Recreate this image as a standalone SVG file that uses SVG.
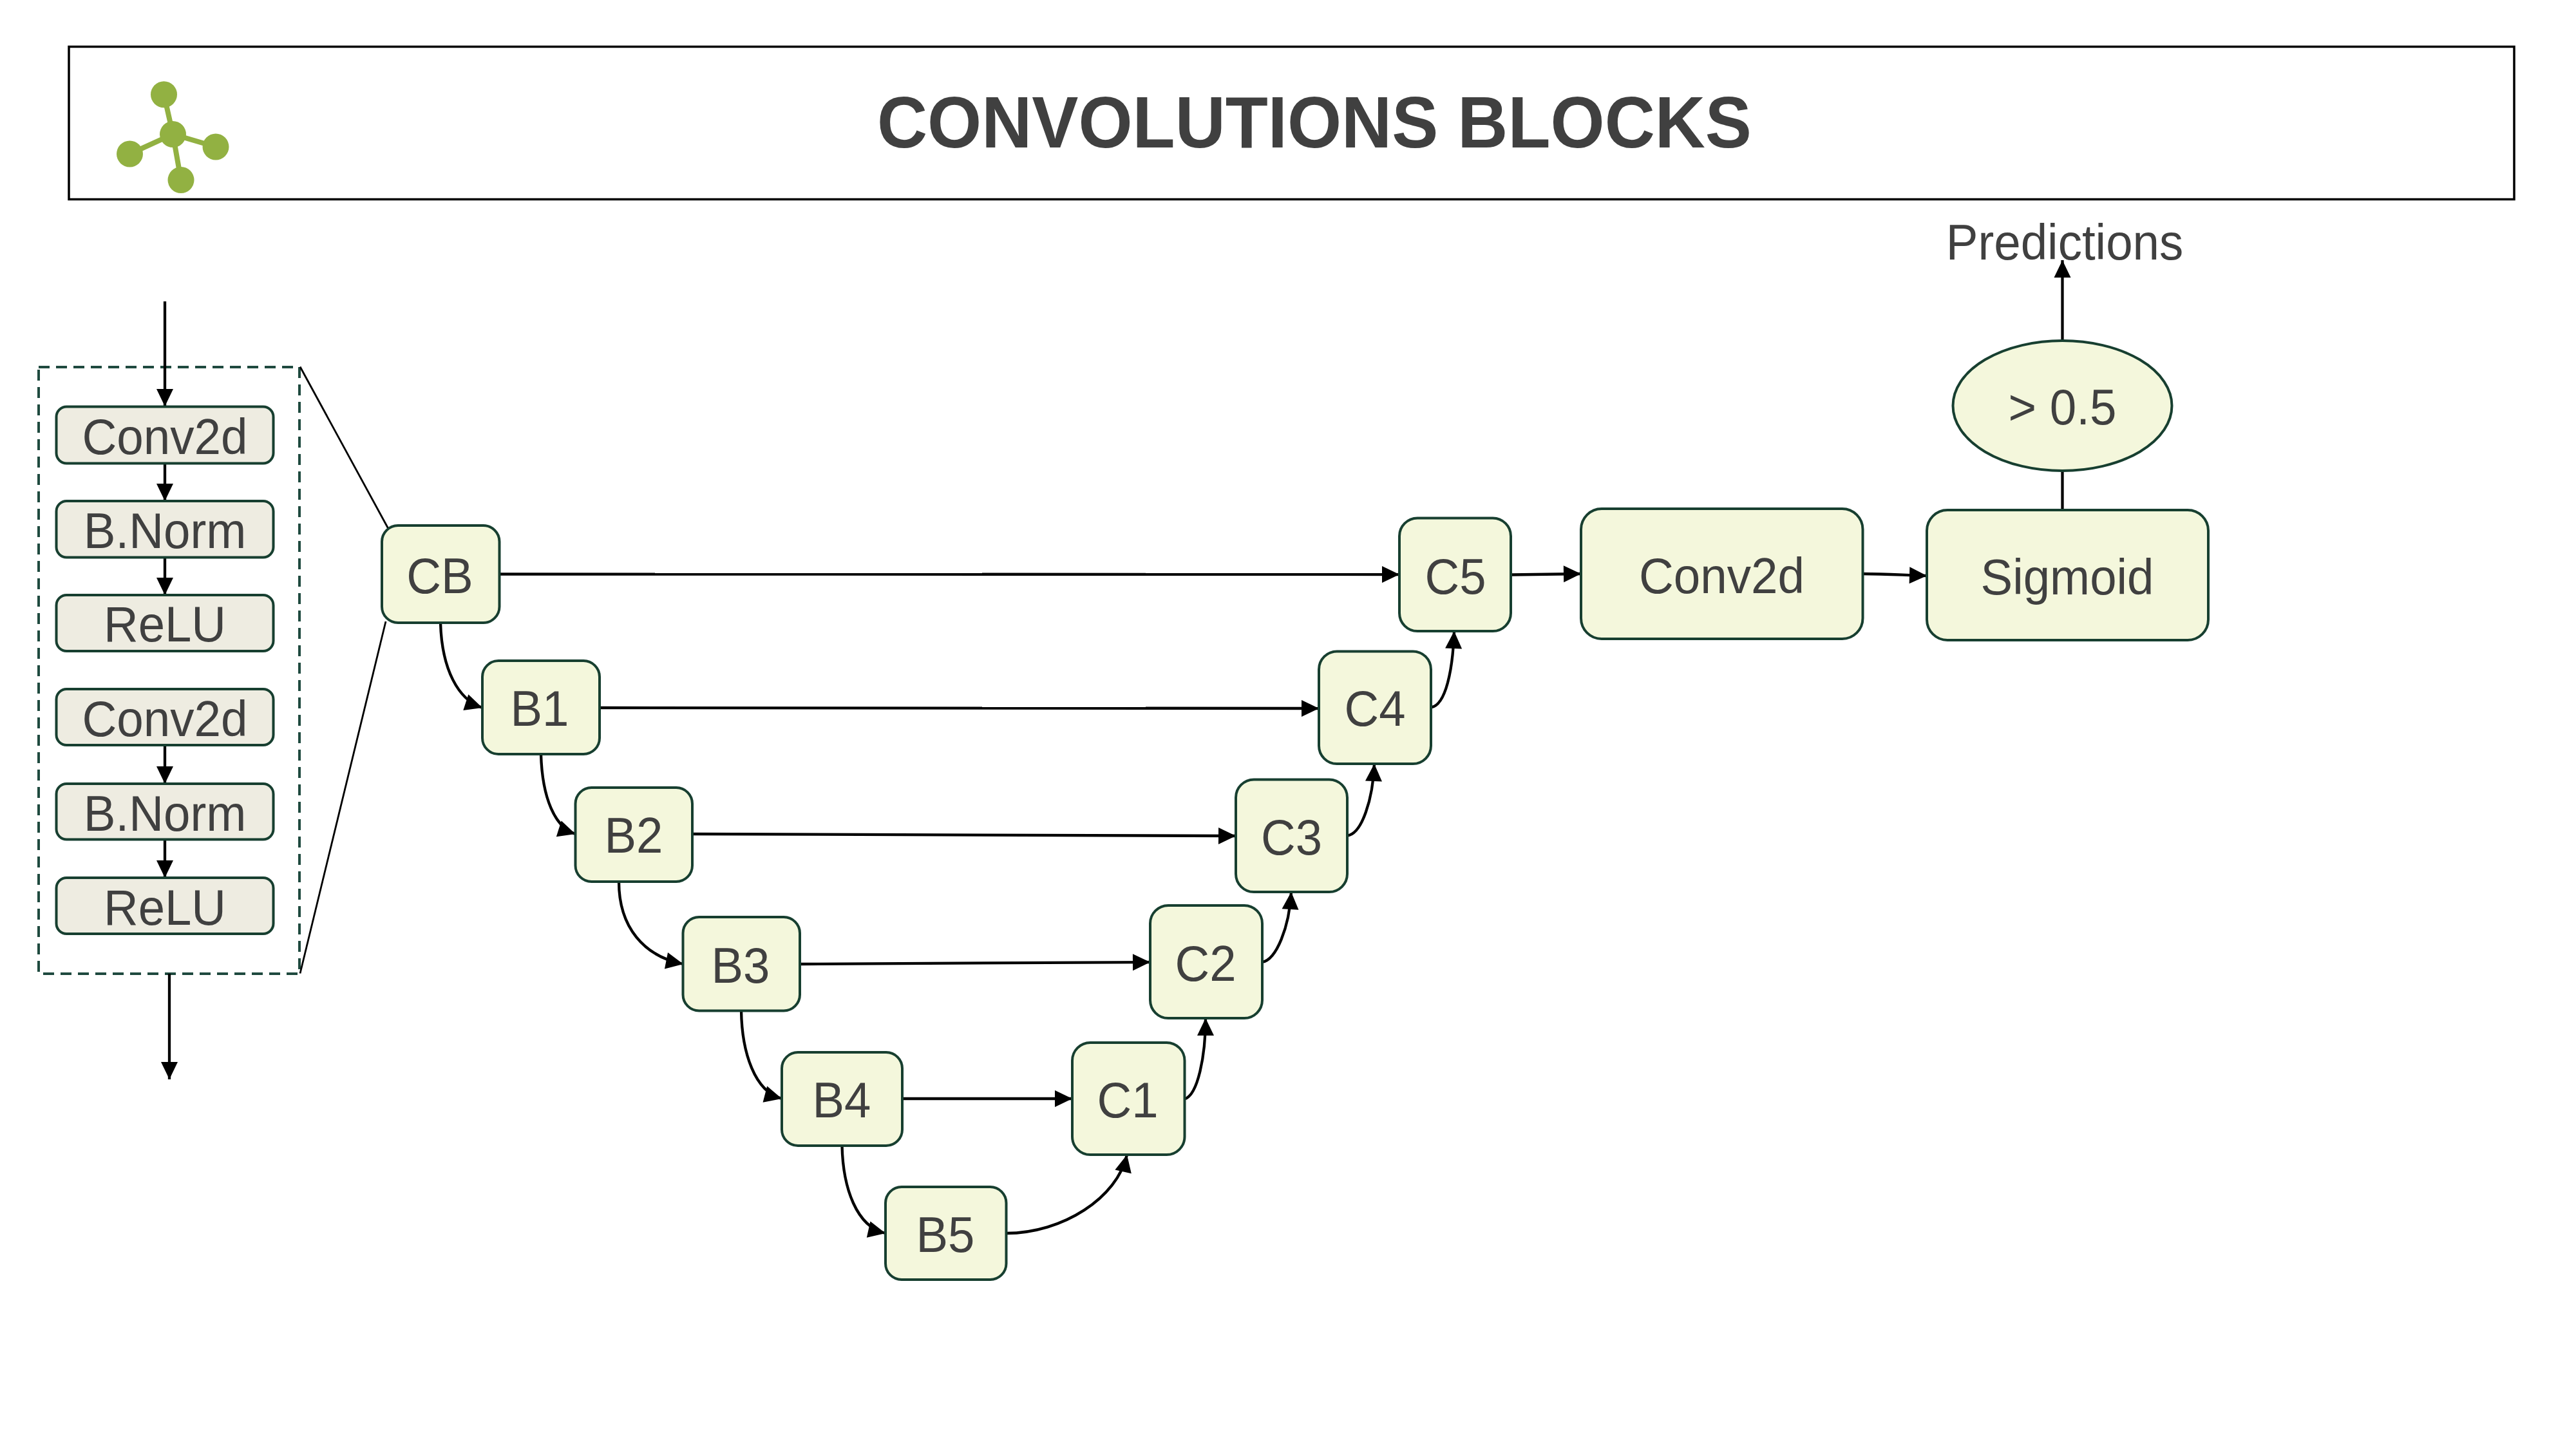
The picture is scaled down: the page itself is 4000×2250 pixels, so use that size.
<svg xmlns="http://www.w3.org/2000/svg" width="4000" height="2250" viewBox="0 0 4000 2250">
<style>
text{font-family:"Liberation Sans",Arial,sans-serif;fill:#404040;font-size:77px;text-anchor:middle}
.t{font-size:113px;font-weight:bold}
.n{fill:#F4F7DC;stroke:#173F30;stroke-width:4}
.s{fill:#EEECE1;stroke:#173F30;stroke-width:4}
.c{fill:none;stroke:#000;stroke-width:4.300;marker-end:url(#a)}
.l{fill:none;stroke:#000;stroke-width:4.300}
.z{fill:none;stroke:#000;stroke-width:2.800}
.g{fill:#92B142}
.gl{fill:none;stroke:#92B142;stroke-width:8}
</style>
<defs>
<marker id="a" markerUnits="userSpaceOnUse" markerWidth="28" markerHeight="28" refX="27" refY="13" orient="auto" overflow="visible"><path d="M0 0L27 13L0 26Z" fill="#000"/></marker>
</defs>
<g id="title">
<rect x="107" y="72.500" width="3797" height="237" fill="#fff" stroke="#000" stroke-width="3.500"/>
<text class="t" x="2041" y="229" textLength="1358" lengthAdjust="spacingAndGlyphs">CONVOLUTIONS BLOCKS</text>
</g>
<g id="logo">
<path class="gl" d="M254.500 146.700L268.500 208.500L281 279.500M201.500 239L268.500 208.500L335 228"/>
<circle class="g" cx="254.500" cy="146.700" r="20.500"/>
<circle class="g" cx="268.500" cy="208.500" r="20.500"/>
<circle class="g" cx="335" cy="228" r="20.500"/>
<circle class="g" cx="201.500" cy="239" r="20.500"/>
<circle class="g" cx="281" cy="279.500" r="20.500"/>
</g>
<g id="block-frame">
<rect x="60" y="570" width="405" height="942" fill="none" stroke="#1F4A3F" stroke-width="4" stroke-dasharray="17 10"/>
</g>
<g id="connectors">
<path class="z" d="M466 569.500L603 821"/>
<path class="z" d="M599 965L466 1511.500"/>
<path class="c" d="M256 468V631"/>
<path class="c" d="M256 719V778"/>
<path class="c" d="M256 865V924"/>
<path class="c" d="M256 1157V1217"/>
<path class="c" d="M256 1303V1363"/>
<path class="c" d="M263 1512V1676"/>
<path class="c" d="M775 891.500L2173 892"/>
<path class="c" d="M931 1099L2048 1100"/>
<path class="c" d="M1075 1295L1919 1298"/>
<path class="c" d="M1242 1497L1786 1494"/>
<path class="c" d="M1401 1706H1665"/>
<path class="c" d="M2346 892.500L2455 891"/>
<path class="c" d="M2892 891C2930 891 2955 893 2992 894"/>
<path class="c" d="M684 967C686 1040 712 1087 749 1099"/>
<path class="c" d="M840 1171C842 1240 862 1285 893.500 1295"/>
<path class="c" d="M961 1369C961 1440 1000 1485 1061 1497"/>
<path class="c" d="M1151 1569C1152 1635 1172 1695 1214 1706"/>
<path class="c" d="M1307.500 1779C1309 1845 1330 1905 1375 1915"/>
<path class="c" d="M1562.500 1915C1650 1915 1735 1860 1750 1793"/>
<path class="c" d="M1839.500 1706.500C1860 1700 1872 1640 1872 1581"/>
<path class="c" d="M1960 1494C1982 1490 2002 1440 2005 1385"/>
<path class="c" d="M2092 1297.500C2115 1295 2132 1240 2134 1186"/>
<path class="c" d="M2222 1098.500C2245 1095 2256 1040 2258 980"/>
<path class="l" d="M3202.500 994V731"/>
<path class="c" d="M3202.500 528V404"/>
</g>
<g id="conv2d-a"><rect class="s" x="87.500" y="631.500" width="337" height="88" rx="16"/><text x="256" y="704.500" textLength="257" lengthAdjust="spacingAndGlyphs">Conv2d</text></g>
<g id="bnorm-a"><rect class="s" x="87.500" y="778" width="337" height="87.500" rx="16"/><text x="256" y="850.500" textLength="252.500" lengthAdjust="spacingAndGlyphs">B.Norm</text></g>
<g id="relu-a"><rect class="s" x="87.500" y="924" width="337" height="87" rx="16"/><text x="256" y="996" textLength="190" lengthAdjust="spacingAndGlyphs">ReLU</text></g>
<g id="conv2d-b"><rect class="s" x="87.500" y="1070" width="337" height="87" rx="16"/><text x="256" y="1142.500" textLength="257" lengthAdjust="spacingAndGlyphs">Conv2d</text></g>
<g id="bnorm-b"><rect class="s" x="87.500" y="1217" width="337" height="86.500" rx="16"/><text x="256" y="1290" textLength="252.500" lengthAdjust="spacingAndGlyphs">B.Norm</text></g>
<g id="relu-b"><rect class="s" x="87.500" y="1363" width="337" height="87" rx="16"/><text x="256" y="1436" textLength="190" lengthAdjust="spacingAndGlyphs">ReLU</text></g>
<g id="cb"><rect class="n" x="593" y="816" width="182.500" height="151" rx="25"/><text x="683" y="921" textLength="103.500" lengthAdjust="spacingAndGlyphs">CB</text></g>
<g id="b1"><rect class="n" x="749" y="1026" width="182" height="145" rx="25"/><text x="838" y="1127" textLength="91" lengthAdjust="spacingAndGlyphs">B1</text></g>
<g id="b2"><rect class="n" x="893.500" y="1223" width="181.500" height="146" rx="25"/><text x="984" y="1324" textLength="91" lengthAdjust="spacingAndGlyphs">B2</text></g>
<g id="b3"><rect class="n" x="1060.500" y="1424" width="181.500" height="145.500" rx="25"/><text x="1150" y="1526" textLength="91" lengthAdjust="spacingAndGlyphs">B3</text></g>
<g id="b4"><rect class="n" x="1214" y="1634" width="187" height="145" rx="25"/><text x="1307" y="1735" textLength="91" lengthAdjust="spacingAndGlyphs">B4</text></g>
<g id="b5"><rect class="n" x="1375" y="1843" width="187.500" height="144" rx="25"/><text x="1468" y="1944" textLength="91" lengthAdjust="spacingAndGlyphs">B5</text></g>
<g id="c1"><rect class="n" x="1665" y="1619" width="174.500" height="174" rx="28"/><text x="1751" y="1735" textLength="95" lengthAdjust="spacingAndGlyphs">C1</text></g>
<g id="c2"><rect class="n" x="1786" y="1406" width="174" height="175" rx="28"/><text x="1872" y="1523" textLength="95" lengthAdjust="spacingAndGlyphs">C2</text></g>
<g id="c3"><rect class="n" x="1919" y="1210.500" width="173" height="174.500" rx="28"/><text x="2005.500" y="1327" textLength="95" lengthAdjust="spacingAndGlyphs">C3</text></g>
<g id="c4"><rect class="n" x="2048" y="1011.500" width="174" height="174.500" rx="28"/><text x="2135" y="1127" textLength="95" lengthAdjust="spacingAndGlyphs">C4</text></g>
<g id="c5"><rect class="n" x="2173" y="804.500" width="173" height="175.500" rx="28"/><text x="2260" y="921.500" textLength="95" lengthAdjust="spacingAndGlyphs">C5</text></g>
<g id="conv2d-out"><rect class="n" x="2455" y="790" width="437.500" height="202" rx="32"/><text x="2673.500" y="921" textLength="257" lengthAdjust="spacingAndGlyphs">Conv2d</text></g>
<g id="sigmoid"><rect class="n" x="2992" y="792" width="437" height="202" rx="32"/><text x="3210" y="923" textLength="269" lengthAdjust="spacingAndGlyphs">Sigmoid</text></g>
<g id="threshold"><ellipse class="n" cx="3202.500" cy="630" rx="170" ry="101"/><text x="3202.500" y="659" textLength="168" lengthAdjust="spacingAndGlyphs">&gt; 0.5</text></g>
<g id="predictions"><text x="3206" y="402.500" textLength="368.500" lengthAdjust="spacingAndGlyphs">Predictions</text></g>
</svg>
